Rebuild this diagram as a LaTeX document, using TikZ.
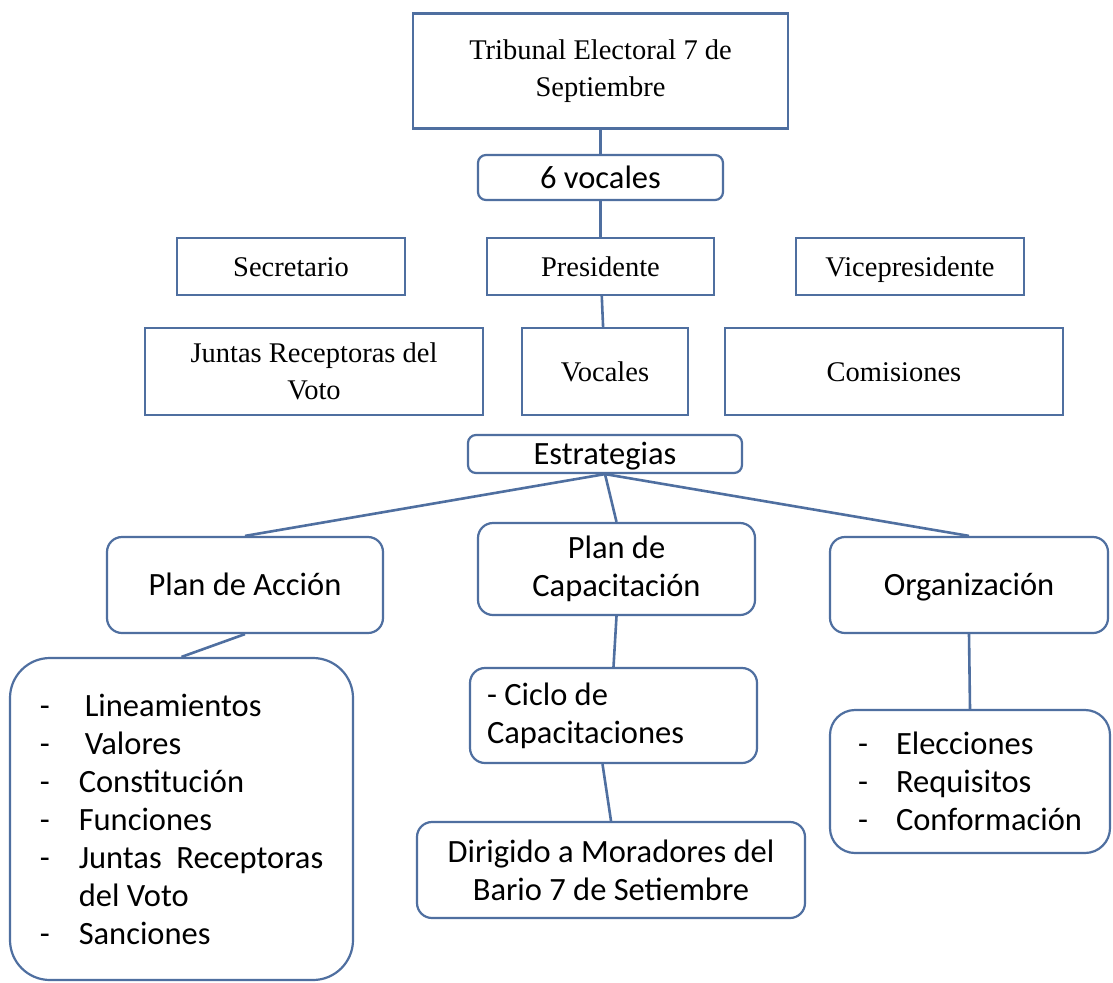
\documentclass[tikz,border=0pt]{standalone}
\usepackage{fontspec}
\setmainfont{Liberation Serif}
\setsansfont{Carlito}
\definecolor{marco}{RGB}{79,111,160}

\begin{document}
\begin{tikzpicture}[x=1pt, y=-1pt,
  box/.style={rectangle, draw=marco, line width=2.2pt, fill=white, align=center,
    inner sep=0pt, font=\fontsize{28.5}{37}\selectfont},
  rbox/.style={rectangle, rounded corners=15pt, draw=marco, line width=2.2pt, fill=white,
    align=center, inner sep=0pt, font=\sffamily\fontsize{32.5}{38}\selectfont},
  unoserif/.style={text height=25pt, text depth=6pt},
  unosans/.style={text height=28pt, text depth=7pt},
  link/.style={draw=marco, line width=2.6pt}]
  \useasboundingbox[fill=white] (0,0) rectangle (1113,982);

  % consejo
  \node[box, minimum width=375pt, minimum height=115pt] (trib) at (600.5,71) {Tribunal Electoral 7 de\\Septiembre};
  \node[rbox, unosans, rounded corners=8pt, minimum width=245pt, minimum height=45pt] (seis) at (600.5,177.5) {6 vocales};
  \node[box, unoserif, minimum width=228pt, minimum height=57pt] (secr) at (291,266.5) {Secretario};
  \node[box, unoserif, minimum width=227pt, minimum height=57pt] (pres) at (600.5,266.5) {Presidente};
  \node[box, unoserif, minimum width=228pt, minimum height=57pt] (vice) at (910,266.5) {Vicepresidente};
  \node[box, minimum width=338pt, minimum height=87pt] (juntas) at (314,371.5) {Juntas Receptoras del\\Voto};
  \node[box, unoserif, minimum width=166pt, minimum height=87pt] (voc) at (605,371.5) {Vocales};
  \node[box, unoserif, minimum width=338pt, minimum height=87pt] (comis) at (894,371.5) {Comisiones};

  % estrategias
  \node[rbox, unosans, rounded corners=8pt, minimum width=274pt, minimum height=38pt] (estr) at (605,454) {Estrategias};
  \node[rbox, unosans, minimum width=276pt, minimum height=96pt] (accion) at (245,585) {Plan de Acción};
  \node[rbox, minimum width=277pt, minimum height=92pt] (capac) at (616.5,569) {Plan de\\Capacitación};
  \node[rbox, unosans, minimum width=278pt, minimum height=96pt] (organ) at (969,585) {Organización};

  \node[rbox, rounded corners=40pt, align=left, minimum width=343pt, minimum height=322pt] (lista) at (181.5,819)
    {\makebox[39pt][l]{-}\hspace{6pt}Lineamientos\\
     \makebox[39pt][l]{-}\hspace{6pt}Valores\\
     \makebox[39pt][l]{-}Constitución\\
     \makebox[39pt][l]{-}Funciones\\
     \makebox[39pt][l]{-}Juntas\ \ Receptoras\\
     \hspace*{39pt}del Voto\\
     \makebox[39pt][l]{-}Sanciones};
  \node[rbox, align=flush left, inner xsep=17pt, text width=253pt, minimum height=95pt] (ciclo) at (613.5,715.5)
    {- Ciclo de\\Capacitaciones};
  \node[rbox, minimum width=388pt, minimum height=96pt] (dirig) at (611,870) {Dirigido a Moradores del\\Bario 7 de Setiembre};
  \node[rbox, rounded corners=25pt, align=left, minimum width=280pt, minimum height=143pt] (elecc) at (970,781.5)
    {\makebox[38pt][l]{-}Elecciones\\
     \makebox[38pt][l]{-}Requisitos\\
     \makebox[38pt][l]{-}Conformación};

  \draw[link] (trib) -- (seis);
  \draw[link] (seis) -- (pres);
  \draw[link] (pres) -- (voc);
  \draw[link] (estr.south) -- (accion.north);
  \draw[link] (estr.south) -- (capac.north);
  \draw[link] (estr.south) -- (organ.north);
  \draw[link] (accion.south) -- (lista.north);
  \draw[link] (capac.south) -- (ciclo.north);
  \draw[link] ([xshift=-11pt]ciclo.south) -- (dirig.north);
  \draw[link] (organ.south) -- (elecc.north);

\end{tikzpicture}
\end{document}
